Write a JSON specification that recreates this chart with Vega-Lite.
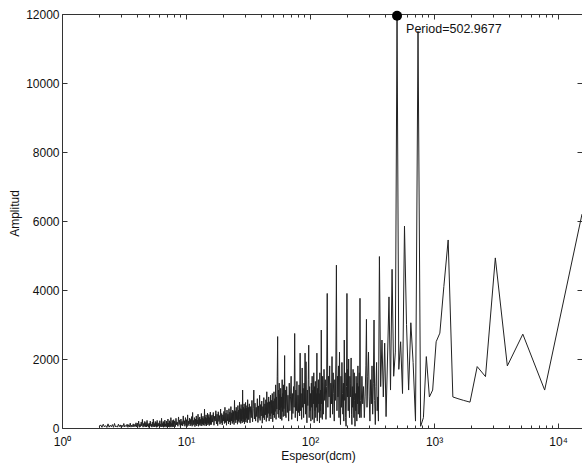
{
  "$schema": "https://vega.github.io/schema/vega-lite/v6.json",
  "width": 520,
  "height": 414,
  "autosize": "none",
  "padding": {"left": 62, "top": 14, "right": 0, "bottom": 36},
  "background": "white",
  "config": {
    "view": {"stroke": null},
    "font": "Liberation Sans",
    "axis": {"grid": false, "domainColor": "#333", "tickColor": "#333", "labelColor": "#111", "titleColor": "#111", "labelFont": "Liberation Sans", "titleFont": "Liberation Sans", "labelFontSize": 12, "titleFontSize": 12, "titleFontWeight": "normal", "domainWidth": 1, "tickWidth": 1}
  },
  "datasets": {
    "spectrum": [
      {"period":2.00,"amp":40},{"period":2.05,"amp":90},{"period":2.10,"amp":20},{"period":2.15,"amp":110},{"period":2.20,"amp":30},{"period":2.25,"amp":70},{"period":2.30,"amp":15},{"period":2.35,"amp":120},{"period":2.40,"amp":25},{"period":2.45,"amp":80},
      {"period":2.50,"amp":35},{"period":2.55,"amp":100},{"period":2.60,"amp":20},{"period":2.65,"amp":130},{"period":2.70,"amp":30},{"period":2.75,"amp":60},{"period":2.80,"amp":25},{"period":2.85,"amp":110},{"period":2.90,"amp":40},{"period":2.95,"amp":90},
      {"period":3.00,"amp":20},{"period":3.05,"amp":80},{"period":3.10,"amp":35},{"period":3.15,"amp":130},{"period":3.20,"amp":30},{"period":3.25,"amp":70},{"period":3.30,"amp":45},{"period":3.35,"amp":110},{"period":3.40,"amp":20},{"period":3.45,"amp":95},
      {"period":3.50,"amp":30},{"period":3.55,"amp":140},{"period":3.60,"amp":25},{"period":3.65,"amp":85},{"period":3.70,"amp":40},{"period":3.75,"amp":120},{"period":3.80,"amp":30},{"period":3.85,"amp":100},{"period":3.90,"amp":45},{"period":3.95,"amp":150},
      {"period":4.00,"amp":30},{"period":4.05,"amp":140},{"period":4.10,"amp":50},{"period":4.15,"amp":200},{"period":4.20,"amp":20},{"period":4.25,"amp":110},{"period":4.30,"amp":40},{"period":4.35,"amp":170},{"period":4.40,"amp":60},{"period":4.45,"amp":250},
      {"period":4.50,"amp":25},{"period":4.55,"amp":130},{"period":4.60,"amp":45},{"period":4.65,"amp":190},{"period":4.70,"amp":35},{"period":4.75,"amp":160},{"period":4.80,"amp":30},{"period":4.85,"amp":220},{"period":4.90,"amp":50},{"period":4.95,"amp":120},
      {"period":5.00,"amp":20},{"period":5.05,"amp":140},{"period":5.10,"amp":40},{"period":5.15,"amp":200},{"period":5.20,"amp":60},{"period":5.25,"amp":110},{"period":5.30,"amp":25},{"period":5.35,"amp":170},{"period":5.40,"amp":45},{"period":5.45,"amp":260},
      {"period":5.50,"amp":35},{"period":5.55,"amp":130},{"period":5.60,"amp":30},{"period":5.65,"amp":190},{"period":5.70,"amp":50},{"period":5.75,"amp":160},{"period":5.80,"amp":20},{"period":5.85,"amp":220},{"period":5.90,"amp":40},{"period":5.95,"amp":120},
      {"period":6.00,"amp":60},{"period":6.05,"amp":150},{"period":6.10,"amp":25},{"period":6.15,"amp":210},{"period":6.20,"amp":45},{"period":6.25,"amp":110},{"period":6.30,"amp":35},{"period":6.35,"amp":280},{"period":6.40,"amp":30},{"period":6.45,"amp":130},
      {"period":6.50,"amp":50},{"period":6.55,"amp":190},{"period":6.60,"amp":20},{"period":6.65,"amp":170},{"period":6.70,"amp":40},{"period":6.75,"amp":230},{"period":6.80,"amp":60},{"period":6.85,"amp":120},{"period":6.90,"amp":25},{"period":6.95,"amp":200},
      {"period":7.00,"amp":45},{"period":7.05,"amp":150},{"period":7.10,"amp":35},{"period":7.15,"amp":260},{"period":7.20,"amp":30},{"period":7.25,"amp":140},{"period":7.30,"amp":50},{"period":7.35,"amp":210},{"period":7.40,"amp":20},{"period":7.45,"amp":170},
      {"period":7.50,"amp":40},{"period":7.55,"amp":300},{"period":7.60,"amp":60},{"period":7.65,"amp":130},{"period":7.70,"amp":25},{"period":7.75,"amp":220},{"period":7.80,"amp":45},{"period":7.85,"amp":160},{"period":7.90,"amp":35},{"period":7.95,"amp":240},
      {"period":8.0,"amp":60},{"period":8.1,"amp":200},{"period":8.2,"amp":40},{"period":8.3,"amp":280},{"period":8.4,"amp":90},{"period":8.5,"amp":170},{"period":8.6,"amp":50},{"period":8.7,"amp":320},{"period":8.8,"amp":100},{"period":8.9,"amp":230},
      {"period":9.0,"amp":40},{"period":9.1,"amp":260},{"period":9.2,"amp":80},{"period":9.3,"amp":190},{"period":9.4,"amp":60},{"period":9.5,"amp":350},{"period":9.6,"amp":110},{"period":9.7,"amp":210},{"period":9.8,"amp":50},{"period":9.9,"amp":300},
      {"period":10.0,"amp":90},{"period":10.1,"amp":240},{"period":10.2,"amp":40},{"period":10.3,"amp":380},{"period":10.4,"amp":70},{"period":10.5,"amp":200},{"period":10.6,"amp":120},{"period":10.7,"amp":290},{"period":10.8,"amp":60},{"period":10.9,"amp":250},
      {"period":11.0,"amp":100},{"period":11.1,"amp":330},{"period":11.2,"amp":50},{"period":11.3,"amp":450},{"period":11.4,"amp":80},{"period":11.5,"amp":220},{"period":11.6,"amp":110},{"period":11.7,"amp":300},{"period":11.8,"amp":40},{"period":11.9,"amp":260},
      {"period":12.0,"amp":90},{"period":12.1,"amp":350},{"period":12.2,"amp":60},{"period":12.3,"amp":230},{"period":12.4,"amp":120},{"period":12.5,"amp":400},{"period":12.6,"amp":50},{"period":12.7,"amp":280},{"period":12.8,"amp":100},{"period":12.9,"amp":320},
      {"period":13.0,"amp":70},{"period":13.1,"amp":250},{"period":13.2,"amp":130},{"period":13.3,"amp":420},{"period":13.4,"amp":60},{"period":13.5,"amp":290},{"period":13.6,"amp":110},{"period":13.7,"amp":340},{"period":13.8,"amp":80},{"period":13.9,"amp":270},
      {"period":14.0,"amp":140},{"period":14.1,"amp":550},{"period":14.2,"amp":70},{"period":14.3,"amp":310},{"period":14.4,"amp":120},{"period":14.5,"amp":380},{"period":14.6,"amp":60},{"period":14.7,"amp":280},{"period":14.8,"amp":150},{"period":14.9,"amp":430},
      {"period":15.0,"amp":90},{"period":15.1,"amp":330},{"period":15.2,"amp":130},{"period":15.3,"amp":390},{"period":15.4,"amp":70},{"period":15.5,"amp":300},{"period":15.6,"amp":160},{"period":15.7,"amp":460},{"period":15.8,"amp":100},{"period":15.9,"amp":350},
      {"period":16.0,"amp":100},{"period":16.2,"amp":380},{"period":16.4,"amp":170},{"period":16.6,"amp":450},{"period":16.8,"amp":80},{"period":17.0,"amp":340},{"period":17.2,"amp":200},{"period":17.4,"amp":500},{"period":17.6,"amp":120},{"period":17.8,"amp":400},
      {"period":18.0,"amp":70},{"period":18.2,"amp":470},{"period":18.4,"amp":190},{"period":18.6,"amp":360},{"period":18.8,"amp":110},{"period":19.0,"amp":550},{"period":19.2,"amp":150},{"period":19.4,"amp":420},{"period":19.6,"amp":90},{"period":19.8,"amp":380},
      {"period":20.0,"amp":200},{"period":20.2,"amp":480},{"period":20.4,"amp":130},{"period":20.6,"amp":600},{"period":20.8,"amp":160},{"period":21.0,"amp":430},{"period":21.2,"amp":80},{"period":21.4,"amp":520},{"period":21.6,"amp":210},{"period":21.8,"amp":400},
      {"period":22.0,"amp":120},{"period":22.2,"amp":560},{"period":22.4,"amp":180},{"period":22.6,"amp":460},{"period":22.8,"amp":90},{"period":23.0,"amp":620},{"period":23.2,"amp":200},{"period":23.4,"amp":440},{"period":23.6,"amp":130},{"period":23.8,"amp":520},
      {"period":24.0,"amp":170},{"period":24.2,"amp":480},{"period":24.4,"amp":100},{"period":24.6,"amp":800},{"period":24.8,"amp":220},{"period":25.0,"amp":500},{"period":25.2,"amp":150},{"period":25.4,"amp":600},{"period":25.6,"amp":240},{"period":25.8,"amp":470},
      {"period":26.0,"amp":110},{"period":26.2,"amp":650},{"period":26.4,"amp":200},{"period":26.6,"amp":520},{"period":26.8,"amp":160},{"period":27.0,"amp":750},{"period":27.2,"amp":250},{"period":27.4,"amp":560},{"period":27.6,"amp":130},{"period":27.8,"amp":680},
      {"period":28.0,"amp":210},{"period":28.2,"amp":540},{"period":28.4,"amp":150},{"period":28.6,"amp":1100},{"period":28.8,"amp":260},{"period":29.0,"amp":600},{"period":29.2,"amp":180},{"period":29.4,"amp":700},{"period":29.6,"amp":120},{"period":29.8,"amp":560},
      {"period":30.0,"amp":230},{"period":30.2,"amp":740},{"period":30.4,"amp":170},{"period":30.6,"amp":580},{"period":30.8,"amp":280},{"period":31.0,"amp":650},{"period":31.2,"amp":150},{"period":31.4,"amp":820},{"period":31.6,"amp":240},{"period":31.8,"amp":600},
      {"period":32.0,"amp":250},{"period":32.4,"amp":700},{"period":32.8,"amp":150},{"period":33.2,"amp":620},{"period":33.6,"amp":300},{"period":34.0,"amp":800},{"period":34.4,"amp":180},{"period":34.8,"amp":560},{"period":35.2,"amp":1100},{"period":35.6,"amp":260},
      {"period":36.0,"amp":720},{"period":36.4,"amp":200},{"period":36.8,"amp":600},{"period":37.2,"amp":330},{"period":37.6,"amp":850},{"period":38.0,"amp":160},{"period":38.4,"amp":640},{"period":38.8,"amp":280},{"period":39.2,"amp":950},{"period":39.6,"amp":220},
      {"period":40.0,"amp":680},{"period":40.4,"amp":350},{"period":40.8,"amp":780},{"period":41.2,"amp":140},{"period":41.6,"amp":620},{"period":42.0,"amp":300},{"period":42.4,"amp":880},{"period":42.8,"amp":240},{"period":43.2,"amp":700},{"period":43.6,"amp":380},
      {"period":44.0,"amp":820},{"period":44.4,"amp":190},{"period":44.8,"amp":1050},{"period":45.2,"amp":300},{"period":45.6,"amp":740},{"period":46.0,"amp":420},{"period":46.4,"amp":900},{"period":46.8,"amp":200},{"period":47.2,"amp":760},{"period":47.6,"amp":350},
      {"period":48.0,"amp":950},{"period":48.4,"amp":260},{"period":48.8,"amp":800},{"period":49.2,"amp":420},{"period":49.6,"amp":1000},{"period":50.0,"amp":180},{"period":50.4,"amp":780},{"period":50.8,"amp":380},{"period":51.2,"amp":1050},{"period":51.6,"amp":300},
      {"period":52.0,"amp":850},{"period":52.4,"amp":480},{"period":52.8,"amp":1250},{"period":53.2,"amp":250},{"period":53.6,"amp":900},{"period":54.0,"amp":550},{"period":54.4,"amp":1500},{"period":54.8,"amp":2650},{"period":55.2,"amp":400},{"period":55.6,"amp":1100},
      {"period":56.0,"amp":300},{"period":56.4,"amp":1300},{"period":56.8,"amp":520},{"period":57.2,"amp":980},{"period":57.6,"amp":260},{"period":58.0,"amp":1150},{"period":58.4,"amp":600},{"period":58.8,"amp":900},{"period":59.2,"amp":220},{"period":59.6,"amp":1400},
      {"period":60.0,"amp":480},{"period":60.4,"amp":1000},{"period":60.8,"amp":330},{"period":61.2,"amp":1250},{"period":61.6,"amp":560},{"period":62.0,"amp":900},{"period":62.4,"amp":2100},{"period":62.8,"amp":350},{"period":63.2,"amp":1100},{"period":63.6,"amp":420},
      {"period":64.0,"amp":300},{"period":64.8,"amp":1200},{"period":65.6,"amp":450},{"period":66.4,"amp":950},{"period":67.2,"amp":200},{"period":68.0,"amp":1300},{"period":68.8,"amp":500},{"period":69.6,"amp":900},{"period":70.4,"amp":1500},{"period":71.2,"amp":250},
      {"period":72.0,"amp":1000},{"period":72.8,"amp":420},{"period":73.6,"amp":1200},{"period":74.4,"amp":600},{"period":75.2,"amp":2740},{"period":76.0,"amp":300},{"period":76.8,"amp":1100},{"period":77.6,"amp":500},{"period":78.4,"amp":1350},{"period":79.2,"amp":200},
      {"period":80.0,"amp":950},{"period":80.8,"amp":450},{"period":81.6,"amp":1250},{"period":82.4,"amp":350},{"period":83.2,"amp":2170},{"period":84.0,"amp":500},{"period":84.8,"amp":1000},{"period":85.6,"amp":250},{"period":86.4,"amp":1740},{"period":87.2,"amp":600},
      {"period":88.0,"amp":1150},{"period":88.8,"amp":300},{"period":89.6,"amp":1300},{"period":90.4,"amp":700},{"period":91.2,"amp":2170},{"period":92.0,"amp":400},{"period":92.8,"amp":1920},{"period":93.6,"amp":550},{"period":94.4,"amp":150},{"period":95.2,"amp":1100},
      {"period":96.0,"amp":650},{"period":96.8,"amp":1400},{"period":97.6,"amp":2400},{"period":98.4,"amp":300},{"period":99.2,"amp":1200},{"period":100.0,"amp":500},{"period":100.8,"amp":1000},{"period":101.6,"amp":200},{"period":102.4,"amp":1300},{"period":103.2,"amp":600},
      {"period":104.0,"amp":1500},{"period":104.8,"amp":250},{"period":105.6,"amp":1100},{"period":106.4,"amp":700},{"period":107.2,"amp":1600},{"period":108.0,"amp":150},{"period":108.8,"amp":1200},{"period":109.6,"amp":500},{"period":110.4,"amp":1350},{"period":111.2,"amp":300},
      {"period":112.0,"amp":1000},{"period":112.8,"amp":600},{"period":113.6,"amp":2170},{"period":114.4,"amp":200},{"period":115.2,"amp":1150},{"period":116.0,"amp":450},{"period":116.8,"amp":1400},{"period":117.6,"amp":700},{"period":118.4,"amp":1000},{"period":119.2,"amp":150},
      {"period":120.0,"amp":1600},{"period":120.8,"amp":500},{"period":121.6,"amp":1100},{"period":122.4,"amp":300},{"period":123.2,"amp":2840},{"period":124.0,"amp":700},{"period":124.8,"amp":1300},{"period":125.6,"amp":250},{"period":126.4,"amp":1500},{"period":127.2,"amp":600},
      {"period":128.0,"amp":400},{"period":129.6,"amp":1700},{"period":131.2,"amp":800},{"period":132.8,"amp":1400},{"period":134.4,"amp":250},{"period":136.0,"amp":1200},{"period":137.6,"amp":3900},{"period":139.2,"amp":600},{"period":140.8,"amp":1500},{"period":142.4,"amp":900},
      {"period":144.0,"amp":1800},{"period":145.6,"amp":300},{"period":147.2,"amp":1300},{"period":148.8,"amp":700},{"period":150.4,"amp":2070},{"period":152.0,"amp":400},{"period":153.6,"amp":1600},{"period":155.2,"amp":1000},{"period":156.8,"amp":200},{"period":158.4,"amp":1400},
      {"period":160.0,"amp":800},{"period":161.6,"amp":2000},{"period":163.2,"amp":4720},{"period":164.8,"amp":500},{"period":166.4,"amp":1500},{"period":168.0,"amp":900},{"period":169.6,"amp":1800},{"period":171.2,"amp":300},{"period":172.8,"amp":2200},{"period":174.4,"amp":700},
      {"period":176.0,"amp":100},{"period":177.6,"amp":1500},{"period":179.2,"amp":600},{"period":180.8,"amp":1900},{"period":182.4,"amp":1000},{"period":184.0,"amp":400},{"period":185.6,"amp":1300},{"period":187.2,"amp":200},{"period":188.8,"amp":2550},{"period":190.4,"amp":800},
      {"period":192.0,"amp":1600},{"period":193.6,"amp":300},{"period":195.2,"amp":50},{"period":196.8,"amp":1200},{"period":198.4,"amp":3900},{"period":200.0,"amp":900},{"period":201.6,"amp":1700},{"period":203.2,"amp":500},{"period":204.8,"amp":2000},{"period":206.4,"amp":700},
      {"period":208.0,"amp":300},{"period":209.6,"amp":1500},{"period":211.2,"amp":900},{"period":212.8,"amp":1300},{"period":214.4,"amp":2030},{"period":216.0,"amp":400},{"period":217.6,"amp":100},{"period":219.2,"amp":1200},{"period":220.8,"amp":600},{"period":222.4,"amp":1700},
      {"period":224.0,"amp":900},{"period":225.6,"amp":300},{"period":227.2,"amp":1600},{"period":228.8,"amp":800},{"period":230.4,"amp":50},{"period":232.0,"amp":1000},{"period":233.6,"amp":500},{"period":235.2,"amp":1500},{"period":236.8,"amp":1100},{"period":238.4,"amp":200},
      {"period":240.0,"amp":1300},{"period":241.6,"amp":700},{"period":243.2,"amp":1800},{"period":244.8,"amp":400},{"period":246.4,"amp":1200},{"period":248.0,"amp":900},{"period":249.6,"amp":1600},{"period":251.2,"amp":300},{"period":252.8,"amp":3760},{"period":254.4,"amp":800},
      {"period":258,"amp":300},{"period":262,"amp":1500},{"period":266,"amp":700},{"period":270,"amp":1200},{"period":274,"amp":300},{"period":278,"amp":900},{"period":282,"amp":1800},{"period":285,"amp":3150},{"period":288,"amp":600},{"period":292,"amp":1500},
      {"period":296,"amp":2200},{"period":300,"amp":900},{"period":304,"amp":200},{"period":308,"amp":1400},{"period":312,"amp":700},{"period":316,"amp":1800},{"period":320,"amp":400},{"period":324,"amp":1300},{"period":328,"amp":3130},{"period":332,"amp":800},
      {"period":336,"amp":100},{"period":340,"amp":1200},{"period":344,"amp":1900},{"period":348,"amp":500},{"period":352,"amp":900},{"period":356,"amp":200},
      {"period":362.6,"amp":4970},{"period":371.2,"amp":1200},{"period":380.3,"amp":2550},{"period":389.8,"amp":900},{"period":399.8,"amp":2460},{"period":410.3,"amp":330},{"period":421.4,"amp":2000},{"period":433.1,"amp":3800},{"period":445.5,"amp":1100},{"period":458.6,"amp":4600},
      {"period":472.5,"amp":1500},{"period":487.3,"amp":2200},{"period":502.9677,"amp":11950},{"period":519.7,"amp":1700},{"period":537.7,"amp":2500},{"period":556.9,"amp":1000},{"period":577.5,"amp":5850},{"period":599.7,"amp":3000},{"period":623.7,"amp":1100},{"period":649.7,"amp":3050},
      {"period":677.9,"amp":1900},{"period":708.7,"amp":200},{"period":742.5,"amp":11500},{"period":779.6,"amp":50},{"period":820.6,"amp":300},{"period":866.2,"amp":2070},{"period":917.2,"amp":900},{"period":974.5,"amp":1100},{"period":1039.5,"amp":2500},{"period":1113.7,"amp":2750},
      {"period":1199.4,"amp":4100},{"period":1299.3,"amp":5450},{"period":1417.5,"amp":900},{"period":1559.2,"amp":850},{"period":1732.4,"amp":800},{"period":1949,"amp":750},{"period":2227.4,"amp":1780},{"period":2598.7,"amp":1490},{"period":3118.4,"amp":4930},{"period":3898,"amp":1800},
      {"period":5197.3,"amp":2720},{"period":7796,"amp":1100},{"period":15592,"amp":6200}
    ],
    "peak": [{"period": 502.9677, "amp": 11950, "label": "Period=502.9677"}]
  },
  "layer": [
    {
      "data": {"name": "spectrum"},
      "mark": {"type": "line", "stroke": "#222", "strokeWidth": 1, "clip": true},
      "encoding": {
        "x": {"field": "period", "type": "quantitative", "scale": {"type": "log", "domain": [1, 15592], "nice": false},
          "axis": {"orient": "bottom", "title": "Espesor(dcm)", "values": [1,2,3,4,5,6,7,8,9,10,20,30,40,50,60,70,80,90,100,200,300,400,500,600,700,800,900,1000,2000,3000,4000,5000,6000,7000,8000,9000,10000],
            "labelExpr": "datum.value==1?'10⁰':datum.value==10?'10¹':datum.value==100?'10²':datum.value==1000?'10³':datum.value==10000?'10⁴':''",
            "tickSize": {"condition": {"test": "indexof([1,10,100,1000,10000], datum.value) >= 0", "value": -5}, "value": -3},
            "labelPadding": 13, "labelOverlap": false, "labelFlush": false, "titleX": 256, "titleY": 31, "titleBaseline": "alphabetic", "titleAlign": "center"}},
        "y": {"field": "amp", "type": "quantitative", "scale": {"domain": [0, 12000], "nice": false},
          "axis": {"orient": "left", "title": "Amplitud", "values": [0,2000,4000,6000,8000,10000,12000], "format": "d", "tickSize": -5, "labelPadding": 8, "titleX": -48, "titleY": 199, "titleBaseline": "middle", "titleAlign": "center"}}
      }
    },
    {
      "data": {"name": "peak"},
      "mark": {"type": "point", "filled": true, "color": "#000", "size": 100, "opacity": 1},
      "encoding": {
        "x": {"field": "period", "type": "quantitative", "scale": {"type": "log", "domain": [1, 15592], "nice": false},
          "axis": {"orient": "top", "title": null, "labels": false, "values": [1,2,3,4,5,6,7,8,9,10,20,30,40,50,60,70,80,90,100,200,300,400,500,600,700,800,900,1000,2000,3000,4000,5000,6000,7000,8000,9000,10000],
            "tickSize": {"condition": {"test": "indexof([1,10,100,1000,10000], datum.value) >= 0", "value": -5}, "value": -3}}},
        "y": {"field": "amp", "type": "quantitative", "scale": {"domain": [0, 12000], "nice": false},
          "axis": {"orient": "right", "title": null, "labels": false, "domain": false, "values": [0,2000,4000,6000,8000,10000,12000], "tickSize": -5}}
      }
    },
    {
      "data": {"name": "peak"},
      "mark": {"type": "text", "align": "left", "baseline": "alphabetic", "dx": 9, "dy": 17, "fontSize": 12.5, "color": "#111", "font": "Liberation Sans"},
      "encoding": {
        "x": {"field": "period", "type": "quantitative", "axis": null},
        "y": {"field": "amp", "type": "quantitative", "axis": null},
        "text": {"field": "label"}
      }
    }
  ],
  "resolve": {"axis": {"x": "independent", "y": "independent"}}
}
